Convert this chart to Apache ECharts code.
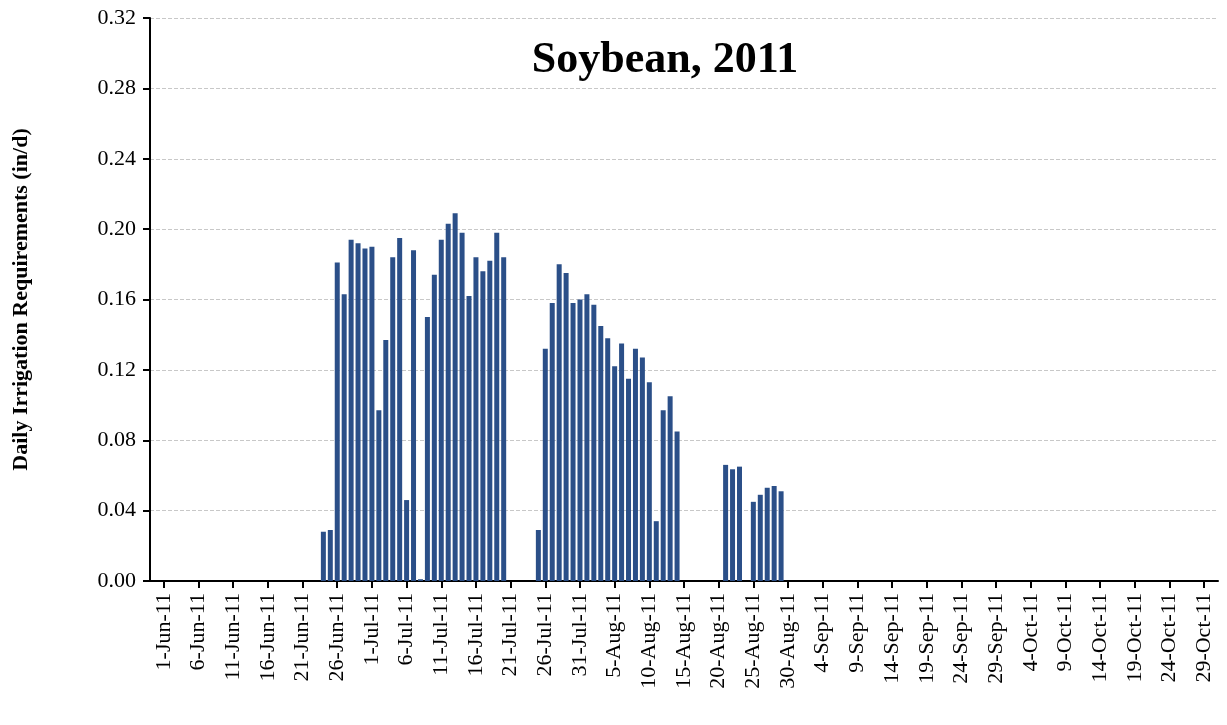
<!DOCTYPE html>
<html>
<head>
<meta charset="utf-8">
<script src="https://cdn.jsdelivr.net/npm/echarts@6/dist/echarts.min.js"></script>
<style>html,body{margin:0;padding:0;background:#fff}#chart{width:1227px;height:725px}</style>
</head>
<body>
<div id="chart"></div>
<script>
// daily values, keyed by day
const months = [['May', 31], ['Jun', 30], ['Jul', 31], ['Aug', 31], ['Sep', 30], ['Oct', 31]]
const juneVals = { 24: 0.028, 25: 0.029, 26: 0.181, 27: 0.163, 28: 0.194, 29: 0.192, 30: 0.189 }
const julyVals = {
  1: 0.190, 2: 0.097, 3: 0.137, 4: 0.184, 5: 0.195, 6: 0.046, 7: 0.188, 8: 0.001,
  9: 0.150, 10: 0.174, 11: 0.194, 12: 0.203, 13: 0.209, 14: 0.198, 15: 0.162,
  16: 0.184, 17: 0.176, 18: 0.182, 19: 0.198, 20: 0.184,
  25: 0.029, 26: 0.132, 27: 0.158, 28: 0.180, 29: 0.175, 30: 0.158, 31: 0.160
}
const augVals = {
  1: 0.163, 2: 0.157, 3: 0.145, 4: 0.138, 5: 0.122, 6: 0.135, 7: 0.115, 8: 0.132,
  9: 0.127, 10: 0.113, 11: 0.034, 12: 0.097, 13: 0.105, 14: 0.085,
  21: 0.066, 22: 0.0635, 23: 0.065, 25: 0.045, 26: 0.049, 27: 0.053, 28: 0.054, 29: 0.051
}
const byMonth = { Jun: juneVals, Jul: julyVals, Aug: augVals }

// axis runs from 30-May (two blank days before the first label) to 31-Oct
var dates = []
var values = []
months.forEach(m => {
  let start = m[0] == 'May' ? 30 : 1
  for (let d = start; d <= m[1]; d++) {
    dates.push(d + '-' + m[0] + '-11')
    let v = (byMonth[m[0]] || {})[d]
    values.push(v === undefined ? 0 : v)
  }
})
const showDay = i => i >= 2 && (i - 2) % 5 === 0

var chart = echarts.init(document.getElementById('chart'))
chart.setOption({
  animation: false,
  textStyle: { fontFamily: 'Liberation Serif' },
  title: {
    text: 'Soybean, 2011',
    left: 660, top: 34, textAlign: 'center',
    textStyle: { fontFamily: 'Liberation Serif', fontSize: 44, fontWeight: 'bold', color: '#000' }
  },
  grid: { left: 150, right: 9, top: 18, bottom: 144 },
  xAxis: {
    type: 'category',
    data: dates,
    boundaryGap: false,
    axisLine: { lineStyle: { color: '#000', width: 2 } },
    axisTick: { interval: showDay, length: 7, lineStyle: { color: '#000', width: 2 } },
    axisLabel: { interval: showDay, rotate: 90, color: '#000', fontSize: 22, fontFamily: 'Liberation Serif', margin: 12 }
  },
  yAxis: {
    type: 'value',
    min: 0, max: 0.32, interval: 0.04,
    name: 'Daily Irrigation Requirements (in/d)',
    nameLocation: 'middle', nameGap: 118, nameRotate: 90,
    nameTextStyle: { fontFamily: 'Liberation Serif', fontSize: 22, fontWeight: 'bold', color: '#000' },
    axisLine: { show: true, lineStyle: { color: '#000', width: 2 } },
    axisTick: { show: true, length: 7, lineStyle: { color: '#000', width: 2 } },
    axisLabel: { formatter: v => v.toFixed(2), color: '#000', fontSize: 22, fontFamily: 'Liberation Serif', margin: 14 },
    splitLine: { lineStyle: { color: '#c8c8c8', type: 'dashed' } }
  },
  series: [{
    type: 'bar',
    data: values,
    barWidth: 5,
    itemStyle: { color: '#2b4f88' }
  }]
})
</script>
</body>
</html>
